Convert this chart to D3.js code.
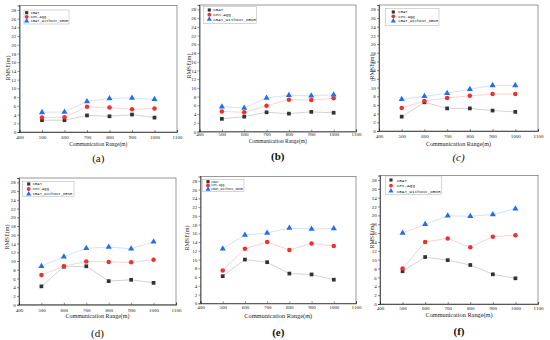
<!DOCTYPE html>
<html><head><meta charset="utf-8">
<script src="https://cdn.jsdelivr.net/npm/d3@7"></script>
<style>body{margin:0;background:#fff}svg{display:block}</style>
</head><body><svg id="c" width="550" height="340"></svg>
<script>
const xValues = [500, 600, 700, 800, 900, 1000];
const seriesNames = ["CBAT", "Cen-Agg", "CBAT_without_DBNR"];
const xTicks = [400, 500, 600, 700, 800, 900, 1000, 1100];
const yTicks = [0,2,4,6,8,10,12,14,16,18,20,22,24,26,28];
const captions = ["(a)", "(b)", "(c)", "(d)", "(e)", "(f)"];
const xTitle = "Communication Range(m)";
const yTitle = "RMSE(m)";

const cbatA = [2.7, 2.7, 3.8, 3.6, 4.0, 3.3];
const cenA  = [3.3, 3.4, 5.8, 5.6, 5.2, 5.4];
const woA   = [4.5, 4.6, 7.0, 7.7, 7.8, 7.5];
const cbatB = [2.9, 3.4, 4.4, 4.1, 4.5, 4.3];
const cenB  = [4.6, 4.4, 5.9, 7.3, 7.2, 7.6];
const woB   = [5.7, 5.4, 7.7, 8.3, 8.2, 8.4];
const cbatC = [3.3, 6.6, 5.2, 5.2, 4.7, 4.4];
const cenC  = [5.3, 6.9, 7.6, 8.1, 8.5, 8.5];
const woC   = [7.3, 8.0, 8.7, 9.6, 10.5, 10.5];
const cbatD = [4.2, 8.7, 8.8, 5.4, 5.7, 5.0];
const cenD  = [6.8, 8.8, 9.9, 9.8, 9.7, 10.3];
const woD   = [8.8, 11.0, 12.9, 13.2, 12.8, 14.4];
const cbatE = [6.2, 10.0, 9.4, 6.8, 6.6, 5.4];
const cenE  = [7.5, 12.5, 14.0, 12.2, 13.7, 13.1];
const woE   = [12.5, 15.6, 16.1, 17.2, 17.0, 17.1];
const cbatF = [7.4, 10.6, 9.9, 8.8, 6.7, 5.8];
const cenF  = [8.0, 14.0, 14.8, 12.8, 15.2, 15.5];
const woF   = [16.0, 18.0, 19.9, 19.8, 20.2, 21.5];

const panelData = [
  [cbatA, cenA, woA], [cbatB, cenB, woB], [cbatC, cenC, woC],
  [cbatD, cenD, woD], [cbatE, cenE, woE], [cbatF, cenF, woF]
];

// layout (positions only)
const layout = [
  {l:19.5,r:177,t:5.5,b:132, tl:137.5, tt:143.5, tw:58, cap:158, yt:7.5, ytY:68, cw:"normal", cs:"normal",
   lg:{x:24,y:10,w:45,h:14,mx:26.7,tx:30.7,ys:[12.7,16.8,21],fs:3.7}},
  {l:199.5,r:356,t:5,b:131.5, tl:134.6, tt:141, tw:58, cap:156, yt:188.3, ytY:66, cw:"bold", cs:"normal",
   lg:{x:203.3,y:6.7,w:53.4,h:16.6,mx:209.3,tx:213.3,ys:[10,14.7,19.3],fs:4.2}},
  {l:379,r:538,t:5,b:131, tl:136, tt:143.3, tw:65, cap:156.7, yt:371.7, ytY:67, cw:"normal", cs:"italic",
   lg:{x:385.7,y:8.3,w:53.3,h:17,mx:393.3,tx:398.3,ys:[12,16.3,21],fs:3.9}},
  {l:19,r:176,t:178,b:304.7, tl:310, tt:315.7, tw:64, cap:332.7, yt:6.7, ytY:237, cw:"normal", cs:"normal",
   lg:{x:22.7,y:181.3,w:51.3,h:15.4,mx:28.7,tx:32.7,ys:[184,189,194],fs:3.9}},
  {l:200.5,r:356,t:176.5,b:303.3, tl:307, tt:315.7, tw:68, cap:331.7, yt:186.7, ytY:238, cw:"bold", cs:"normal",
   lg:{x:202.7,y:179.3,w:41.3,h:12.4,mx:208,tx:211.3,ys:[181.7,185.4,189.3],fs:3.1}},
  {l:380,r:538,t:175.5,b:304, tl:308.3, tt:314.3, tw:67, cap:331, yt:371.7, ytY:236, cw:"bold", cs:"normal",
   lg:{x:385.7,y:176,w:56,h:18.3,mx:391,tx:396.7,ys:[180,185.7,191],fs:4.3}}
];

const markerColors = ["#333333", "#f03030", "#1f6ff0"];
const lineColors = ["#c8c8c8", "#f8c8c8", "#c8dcf8"];
const symbols = [d3.symbolSquare, d3.symbolCircle, d3.symbolTriangle];
const symSizes = [14, 16, 16];

const svg = d3.select("#c");
const FONT = "'Liberation Serif', 'DejaVu Serif', serif";
const MONO = "'Liberation Mono', 'DejaVu Sans Mono', monospace";

layout.forEach((L, pi) => {
  const g = svg.append("g");
  const x = d3.scaleLinear().domain([400, 1100]).range([L.l, L.r]);
  const y = d3.scaleLinear().domain([0, 29]).range([L.b, L.t]);

  // frame
  g.append("rect").attr("x", L.l).attr("y", L.t).attr("width", L.r - L.l).attr("height", L.b - L.t)
    .attr("fill", "none").attr("stroke", "#555").attr("stroke-width", 0.6);

  const xa = g.append("g").attr("transform", `translate(0,${L.b})`)
    .call(d3.axisBottom(x).tickValues(xTicks).tickSize(-2).tickPadding(0).tickFormat(d3.format("d")));
  xa.select(".domain").attr("stroke", "#222").attr("stroke-width", 0.7);
  xa.selectAll(".tick line").attr("stroke", "#222").attr("stroke-width", 0.5);
  xa.selectAll(".tick text").attr("font-family", FONT).attr("font-size", 5).attr("fill", "#222")
    .attr("y", L.tl - L.b).attr("dy", "0.35em");

  const ya = g.append("g").attr("transform", `translate(${L.l},0)`)
    .call(d3.axisLeft(y).tickValues(yTicks).tickSize(2).tickPadding(1.2));
  ya.select(".domain").attr("stroke", "#222").attr("stroke-width", 0.7);
  ya.selectAll(".tick line").attr("stroke", "#222").attr("stroke-width", 0.5);
  ya.selectAll(".tick text").attr("font-family", FONT).attr("font-size", 5).attr("fill", "#222");

  // titles
  g.append("text").attr("x", (L.l + L.r) / 2).attr("y", L.tt).attr("dy", "0.35em")
    .attr("text-anchor", "middle").attr("font-family", FONT).attr("font-size", 6.5)
    .attr("textLength", L.tw).attr("lengthAdjust", "spacingAndGlyphs").attr("fill", "#222").text(xTitle);
  g.append("text").attr("transform", `translate(${L.yt},${L.ytY}) rotate(-90)`).attr("dy", "0.35em")
    .attr("text-anchor", "middle").attr("font-family", FONT).attr("font-size", 6.5)
    .attr("textLength", 25).attr("lengthAdjust", "spacingAndGlyphs").attr("fill", "#222").text(yTitle);
  g.append("text").attr("x", (L.l + L.r) / 2).attr("y", L.cap).attr("dy", "0.35em")
    .attr("text-anchor", "middle").attr("font-family", FONT).attr("font-size", 11)
    .attr("font-weight", L.cw).attr("font-style", L.cs).attr("fill", "#111").text(captions[pi]);

  // series
  const line = d3.line().x((d, i) => x(xValues[i])).y(d => y(d));
  panelData[pi].forEach((vals, si) => {
    g.append("path").datum(vals).attr("d", line).attr("fill", "none")
      .attr("stroke", lineColors[si]).attr("stroke-width", 0.8);
  });
  panelData[pi].forEach((vals, si) => {
    g.selectAll(null).data(vals).enter().append("path")
      .attr("d", d3.symbol().type(symbols[si]).size(symSizes[si]))
      .attr("transform", (d, i) => `translate(${x(xValues[i])},${y(d)})`)
      .attr("fill", markerColors[si]);
  });

  // legend
  const lg = L.lg;
  g.append("rect").attr("x", lg.x).attr("y", lg.y).attr("width", lg.w).attr("height", lg.h)
    .attr("fill", "#fff").attr("stroke", "#999").attr("stroke-width", 0.4);
  seriesNames.forEach((nm, si) => {
    g.append("path").attr("d", d3.symbol().type(symbols[si]).size(symSizes[si] * 0.7))
      .attr("transform", `translate(${lg.mx},${lg.ys[si]})`).attr("fill", markerColors[si]);
    g.append("text").attr("x", lg.tx).attr("y", lg.ys[si]).attr("dy", "0.35em")
      .attr("font-family", MONO).attr("font-size", lg.fs).attr("fill", "#222").text(nm);
  });
});
</script></body></html>
